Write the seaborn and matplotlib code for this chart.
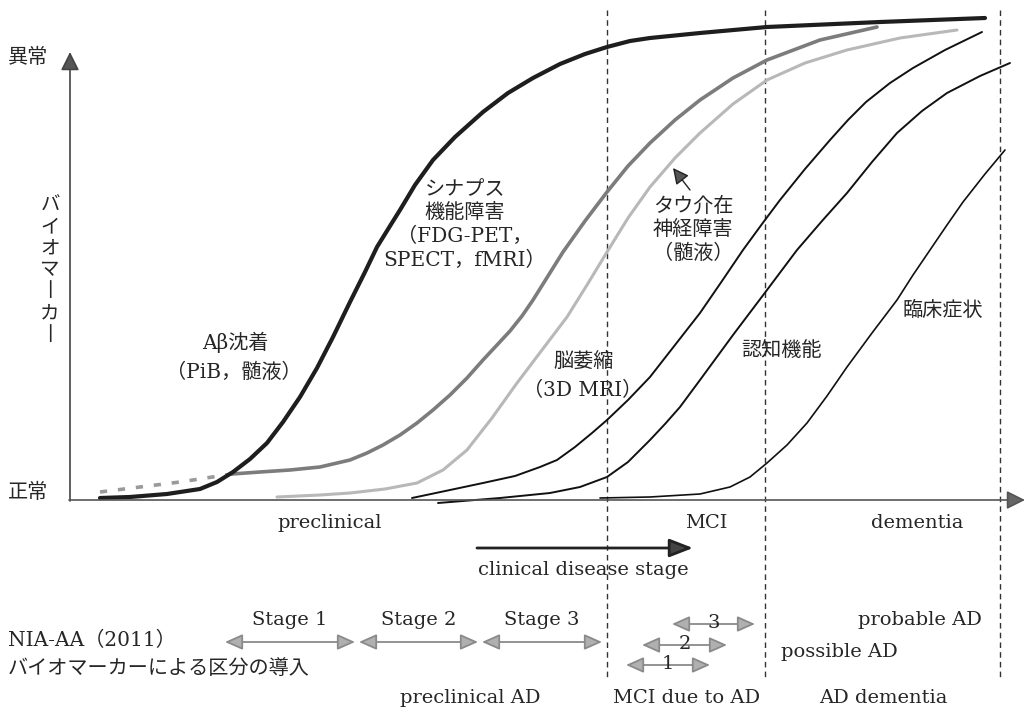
import numpy as np
import pandas as pd
import matplotlib
matplotlib.use("Agg")
import matplotlib.pyplot as plt
import seaborn as sns

# 曲線データ（x: 病期の進行, y: 図上の高さ。値が小さいほど「異常」側）
ab_x = [100, 130, 167, 200, 217, 233, 250, 267, 283, 300, 317, 333, 350, 365, 377, 390, 400, 415, 433,
        455, 483, 508, 533, 560, 585, 607, 630, 650, 700, 767, 880, 985]
ab_y = [498, 497, 494, 489, 482, 472, 459, 443, 422, 397, 368, 337, 302, 272, 247, 226, 210, 185, 160,
        137, 112, 93, 78, 64, 54, 47, 41, 38, 33, 27, 22, 18]

syn_pre_x = [100, 140, 180, 232]
syn_pre_y = [492, 487, 482, 474]
syn_x = [232, 260, 290, 320, 350, 367, 383, 400, 417, 433, 450, 467, 483, 497, 510, 522, 533, 548, 563,
         585, 607, 628, 650, 675, 700, 733, 767, 820, 877]
syn_y = [474, 472, 470, 467, 460, 453, 445, 435, 423, 410, 395, 378, 360, 345, 331, 316, 300, 276, 252,
         221, 192, 166, 143, 120, 100, 78, 60, 40, 27]

tau_x = [277, 320, 350, 385, 417, 443, 467, 492, 517, 542, 567, 587, 607, 628, 650, 675, 700, 733, 767,
         805, 847, 900, 957]
tau_y = [497, 495, 493, 489, 483, 470, 450, 418, 383, 350, 317, 285, 252, 218, 187, 158, 133, 104, 80,
         63, 50, 38, 30]

atr_x = [412, 450, 483, 515, 540, 557, 575, 592, 607, 628, 650, 675, 700, 722, 743, 762, 780, 805, 830,
         848, 866, 890, 913, 945, 982]
atr_y = [498, 490, 483, 476, 467, 460, 447, 433, 420, 400, 377, 345, 313, 281, 250, 224, 200, 169, 140,
         120, 102, 83, 68, 50, 32]

cog_x = [438, 500, 550, 580, 607, 628, 650, 665, 680, 700, 733, 767, 797, 822, 847, 872, 897, 922, 947,
         980, 1010]
cog_y = [503, 498, 493, 487, 477, 462, 440, 424, 407, 380, 335, 290, 250, 221, 193, 162, 133, 111, 93,
         76, 63]

cli_x = [600, 650, 700, 730, 750, 767, 787, 807, 827, 847, 872, 897, 913, 930, 947, 963, 985, 1005]
cli_y = [498, 497, 494, 487, 477, 463, 445, 423, 396, 367, 333, 300, 275, 250, 225, 202, 174, 150]

# 病期の区切り
stage_bounds = [607, 765, 1000]

# NIA-AA preclinical stage
stage_names = ["Stage 1", "Stage 2", "Stage 3"]
stage_start = [225, 359, 482]
stage_end = [355, 478, 602]

# MCI due to AD
mci_names = ["1", "2", "3"]
mci_start = [626, 642, 672]
mci_end = [710, 727, 755]
mci_row = [665, 645, 624]

sns.set_theme(style="white")
plt.rcParams["font.family"] = ["DejaVu Serif", "Noto Sans CJK JP"]

fig = plt.figure(figsize=(10.25, 7.11), dpi=100)
ax = fig.add_axes([0, 0, 1, 1])

# 区切りの破線
ax.vlines(stage_bounds, 10, 680, colors="#333333", linestyles=(0, (4, 3)), lw=1)

# 軸
ax.annotate("", xy=(70, 52), xytext=(70, 501),
            arrowprops=dict(arrowstyle="-|>,head_length=0.8,head_width=0.4", fc="#555555", ec="#444444",
                            lw=1.2, mutation_scale=14, shrinkA=0, shrinkB=0))
ax.annotate("", xy=(1025, 500), xytext=(69, 500),
            arrowprops=dict(arrowstyle="-|>,head_length=0.8,head_width=0.4", fc="#666666", ec="#555555",
                            lw=1.2, mutation_scale=14, shrinkA=0, shrinkB=0))

# 曲線
curves = [
    (syn_pre_x, syn_pre_y, "#9a9a9a", 2.6, (0, (2, 3))),
    (tau_x, tau_y, "#b8b8b8", 2.2, "-"),
    (syn_x, syn_y, "#7c7c7c", 2.6, "-"),
    (atr_x, atr_y, "#111111", 1.4, "-"),
    (cog_x, cog_y, "#111111", 1.4, "-"),
    (cli_x, cli_y, "#111111", 1.2, "-"),
    (ab_x, ab_y, "#1e1e1e", 3.0, "-"),
]
for cx, cy, col, lw, ls in curves:
    df = pd.DataFrame({"x": cx, "y": cy})
    sns.lineplot(data=df, x="x", y="y", ax=ax, color=col, lw=lw, linestyle=ls,
                 estimator=None, sort=False, legend=False)
    
ax.set_xlim(0, 1025)
ax.set_ylim(711, 0)
ax.axis("off")

fs = 14.5
# 縦軸ラベル
ax.text(28, 57, "異常", fontsize=fs, ha="center", va="center")
ax.text(28, 492, "正常", fontsize=fs, ha="center", va="center")
ax.text(50, 270, "\n".join(["バ", "イ", "オ", "マ", "丨", "カ", "丨"]), fontsize=14,
        ha="center", va="center", linespacing=1.25)

# 曲線ラベル
ax.text(235, 342, "Aβ沈着", fontsize=fs, ha="center", va="center")
ax.text(234, 372, "（PiB，髄液）", fontsize=fs, ha="center", va="center")
ax.text(465, 225, "シナプス\n機能障害\n（FDG-PET，\nSPECT，fMRI）", fontsize=fs,
        ha="center", va="center", linespacing=1.3)
ax.text(693, 230, "タウ介在\n神経障害\n（髄液）", fontsize=fs, ha="center", va="center", linespacing=1.3)
ax.annotate("", xy=(673, 168), xytext=(690, 190),
            arrowprops=dict(arrowstyle="-|>,head_length=0.8,head_width=0.4", fc="#555555", ec="#222222",
                            lw=1, mutation_scale=12, shrinkA=0, shrinkB=0))
ax.text(584, 362, "脳萎縮", fontsize=fs, ha="center", va="center")
ax.text(583, 390, "（3D MRI）", fontsize=fs, ha="center", va="center")
ax.text(781, 350, "認知機能", fontsize=fs, ha="center", va="center")
ax.text(943, 310, "臨床症状", fontsize=fs, ha="center", va="center")

# 横軸の病期
ax.text(330, 523, "preclinical", fontsize=14, ha="center", va="center")
ax.text(706, 523, "MCI", fontsize=14, ha="center", va="center")
ax.text(917, 523, "dementia", fontsize=14, ha="center", va="center")

ax.annotate("", xy=(693, 548), xytext=(477, 548),
            arrowprops=dict(arrowstyle="-|>,head_length=0.9,head_width=0.35", fc="#444444", ec="#222222",
                            lw=2, mutation_scale=16, shrinkA=0, shrinkB=0))
ax.text(583, 570, "clinical disease stage", fontsize=14, ha="center", va="center")

# NIA-AA
ax.text(8, 640, "NIA-AA（2011）", fontsize=fs, ha="left", va="center")
ax.text(8, 668, "バイオマーカーによる区分の導入", fontsize=fs, ha="left", va="center")

arrow_kw = dict(arrowstyle="<|-|>,head_length=0.9,head_width=0.4", fc="#b0b0b0", ec="#8a8a8a",
                lw=1.3, mutation_scale=12, shrinkA=0, shrinkB=0)
for name, s, e in zip(stage_names, stage_start, stage_end):
    ax.annotate("", xy=(e, 642), xytext=(s, 642), arrowprops=arrow_kw)
    ax.text((s + e) / 2, 620, name, fontsize=14, ha="center", va="center")

for name, s, e, r in zip(mci_names, mci_start, mci_end, mci_row):
    ax.annotate("", xy=(e, r), xytext=(s, r), arrowprops=arrow_kw)
    ax.text((s + e) / 2, r - 1, name, fontsize=14, ha="center", va="center")

ax.text(920, 620, "probable AD", fontsize=14, ha="center", va="center")
ax.text(839, 652, "possible AD", fontsize=14, ha="center", va="center")

ax.text(470, 698, "preclinical AD", fontsize=14, ha="center", va="center")
ax.text(687, 698, "MCI due to AD", fontsize=14, ha="center", va="center")
ax.text(883, 698, "AD dementia", fontsize=14, ha="center", va="center")

fig.savefig("out.png", dpi=100, facecolor="white")
